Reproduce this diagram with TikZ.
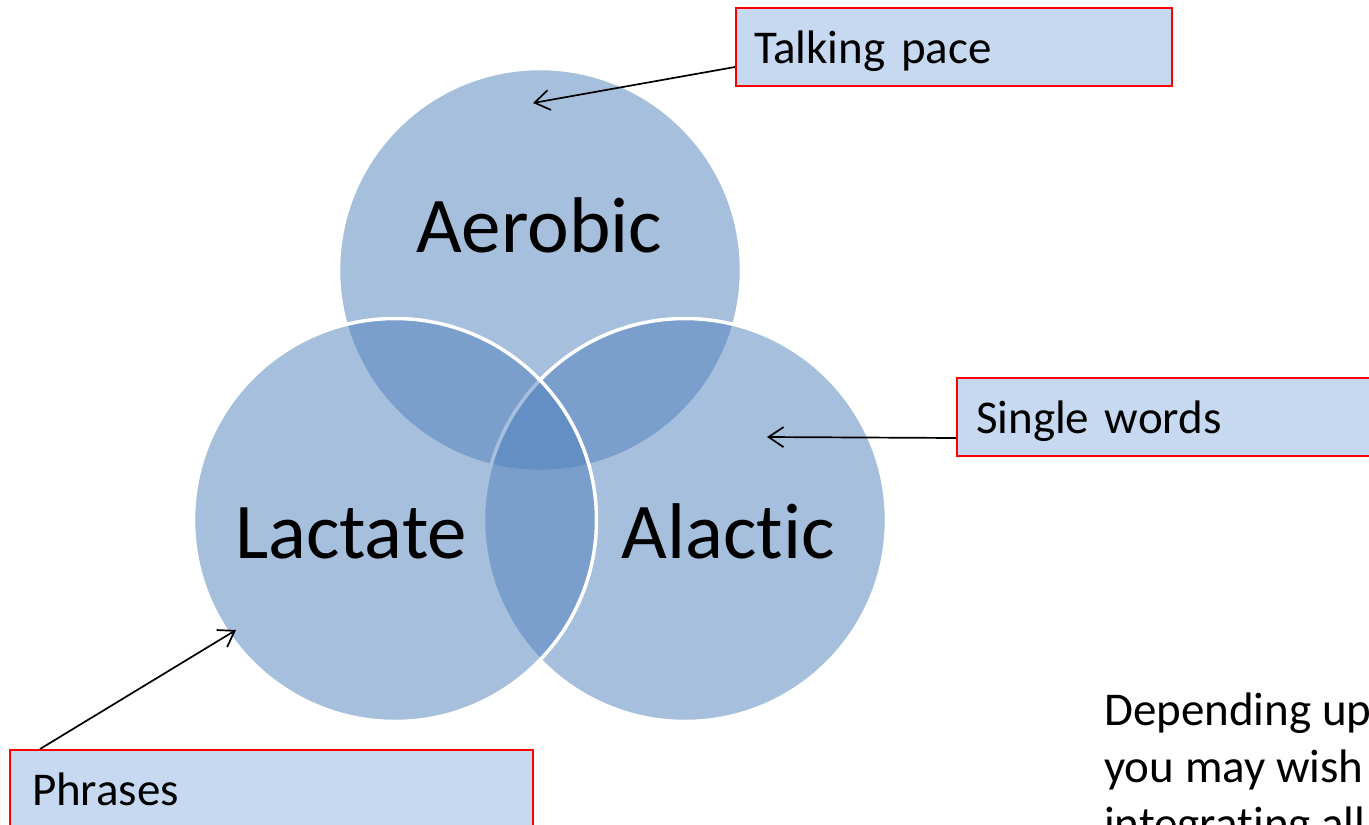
\documentclass[tikz,border=0pt]{standalone}
\usepackage{fontspec}
\setmainfont{Carlito}[Ligatures={NoCommon,NoContextual}]
\usetikzlibrary{arrows.meta}
\definecolor{vennblue}{HTML}{4F81BD}
\definecolor{boxfill}{HTML}{C6D9F1}
\definecolor{boxred}{HTML}{FF0000}
\begin{document}
\begin{tikzpicture}[x=1pt,y=-1pt,
  venn/.style={circle, minimum size=403pt, inner sep=0pt, fill=vennblue, fill opacity=0.5, draw=white, draw opacity=1, line width=3.5pt},
  vennlabel/.style={font=\fontsize{79}{95}\selectfont, anchor=base, text=black, inner sep=0pt},
  callout/.style={draw=boxred, line width=2pt, fill=boxfill, anchor=north west, align=left,
    font=\fontsize{47}{57}\selectfont, text height=40pt, text depth=8pt,
    minimum height=78pt, inner ysep=0pt, inner xsep=18pt},
  pointer/.style={-{Straight Barb[length=15pt,width=20pt]}, line width=1.7pt, black},
  note/.style={font=\fontsize{47}{57}\selectfont, anchor=base west, inner sep=0pt}
]
\useasboundingbox (0,0) rectangle (1369,825);
\clip (0,0) rectangle (1369,825);
\fill[white] (0,0) rectangle (1369,825);

% Venn circles (order: Aerobic, Alactic, Lactate)
\node[venn] (aer) at (540,270) {};
\node[venn] (ala) at (685,520) {};
\node[venn] (lac) at (395,520) {};

\node[vennlabel] (aert) at (539,252) {Aerobic};
\node[vennlabel] (lact) at (351,558) {Lactate};
\node[vennlabel] (alat) at (728,558) {Alactic};

% Callout boxes
\node[callout, text width=400pt] (talk) at (735,7) {Talking pace};
\node[callout, text width=414pt, inner xsep=19pt] (single) at (956,377) {Single words};
\node[callout, text width=479pt, inner xsep=22pt] (phr) at (9,749) {Phrases};

% Arrow targets
\coordinate (talkend) at (533,103);
\coordinate (singleend) at (767,437);
\coordinate (phrend) at (236,630);

\draw[pointer] ([yshift=-20pt]talk.west) -- (talkend);
\draw[pointer] ([yshift=-21pt]single.west) -- (singleend);
\draw[pointer] ([xshift=31pt]phr.north west) -- (phrend);

% Note text, cut by the picture's edges as in the reference
\node[note] (dep1) at (1104,725) {Depending up};
\node[note] (dep2) at (1104,782) {you may wish};
\node[note] (dep3) at (1104,839) {integrating all};
\end{tikzpicture}
\end{document}
